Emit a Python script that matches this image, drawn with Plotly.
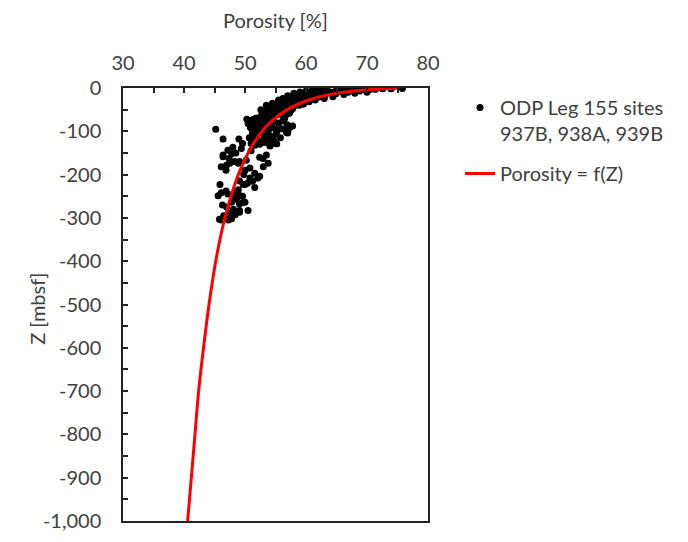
import plotly.graph_objects as go

# ---- fitted curve Porosity = f(Z) ----
curve_z = [0, -1, -2, -5, -10, -20, -30, -50, -75, -100, -150, -200, -300, -400, -500, -600, -700, -800, -900, -1000]
curve_p = [75.0, 73.4, 72.2, 69.3, 66.1, 62.3, 60.0, 56.9, 54.5, 52.8, 50.5, 48.9, 46.7, 45.2, 44.1, 43.2, 42.4, 41.8, 41.2, 40.6]

# ---- ODP Leg 155 observations (porosity %, depth mbsf) ----
p_top = [75.8, 73.9, 72.6, 71.4, 70.6, 69.8, 69.0, 68.3, 67.6, 67.0, 66.4, 65.8, 65.1, 64.6, 64.0, 63.5, 62.9, 66.9, 68.8, 70.1, 63.2, 64.9, 62.3, 61.7,
         60.0, 61.0, 62.0, 63.0, 65.0, 66.0, 67.0, 71.0, 72.5, 74.0, 68.0, 70.0, 66.2, 64.4]
z_top = [-1, -2, -2, -3, -3, -4, -4, -5, -6, -5, -7, -8, -8, -10, -9, -11, -12, -10, -7, -6, -15, -13, -15, -13,
         -7, -6, -5, -4, -5, -4, -3, -2, -1, -1, -12, -10, -15, -20]

p_band = [61.2, 60.6, 60.1, 59.5, 59.0, 58.4, 57.9, 57.4, 56.9, 56.3, 55.8, 61.8, 60.9, 59.8, 58.8, 57.8, 56.7, 55.5, 62.4, 61.4, 60.3, 59.2, 58.1, 57.0, 56.0,
          53.5, 54.5, 55.5, 56.2, 57.0, 58.0, 59.0, 54.0, 55.0, 56.5, 57.5, 58.5, 59.5, 60.5, 61.5, 62.5, 63.5, 59.5, 60.5, 61.5, 63.0]
z_band = [-16, -18, -20, -22, -24, -26, -29, -31, -33, -36, -38, -22, -26, -29, -33, -37, -41, -44, -20, -23, -25, -30, -35, -28, -31,
          -40, -35, -28, -24, -18, -12, -9, -45, -38, -30, -25, -20, -15, -12, -10, -9, -7, -37, -32, -28, -24]

p_mid = [54.9, 54.3, 53.7, 53.2, 52.8, 55.6, 56.4, 57.2, 58.0, 58.9, 59.6, 54.0, 55.1, 56.0, 56.9, 57.8, 53.0, 52.4, 51.8, 54.6, 55.8, 57.3,
         57.0, 57.5, 56.5, 53.5, 52.6]
z_mid = [-46, -49, -52, -55, -58, -50, -47, -45, -42, -40, -37, -60, -56, -54, -52, -48, -65, -68, -70, -64, -62, -58,
         -60, -52, -70, -62, -50]

p_dense = [50.3, 50.8, 51.3, 51.9, 52.4, 53.0, 53.6, 54.2, 50.5, 51.1, 51.7, 52.3, 52.9, 53.5, 54.1, 54.8, 55.5, 56.2, 56.9, 57.4,
           50.9, 51.5, 52.1, 52.7, 53.3, 53.9, 54.5, 55.3, 56.0, 56.8, 51.2, 51.8, 52.5, 53.1, 53.8, 54.4, 55.1, 55.8,
           50.7, 51.4, 52.0, 52.8, 53.4, 54.0, 54.7, 51.0, 51.6, 52.4, 53.2, 54.1, 55.0, 57.8, 57.0, 56.6]
z_dense = [-72, -75, -73, -70, -76, -74, -72, -71, -82, -85, -80, -84, -79, -86, -83, -78, -81, -76, -85, -90,
           -92, -95, -90, -97, -93, -96, -92, -98, -94, -99, -104, -108, -102, -110, -105, -112, -106, -115,
           -115, -120, -118, -124, -116, -122, -120, -128, -132, -130, -126, -134, -128, -88, -104, -95]

p_scatter = [45.2, 46.4, 49.0, 48.0, 47.2, 47.8, 46.4, 49.4, 47.4, 46.1, 47.0, 48.9, 50.2, 50.8, 51.6, 53.0, 53.5, 54.1, 55.2, 56.8,
             57.1, 55.1, 48.5, 49.6, 50.0, 52.4, 51.0, 49.8, 48.3, 46.9, 47.5, 49.1, 52.4, 53.8, 52.95, 46.4]
z_scatter = [-95, -118, -118, -137, -144, -152, -159, -140, -163, -182, -178, -174, -167, -185, -197, -182, -155, -133, -129, -103,
             -95, -95, -150, -128, -190, -160, -145, -200, -170, -190, -174, -170, -204, -174, -163, -155]

p_deep = [50.8, 52.1, 50.0, 51.1, 51.6, 45.9, 46.1, 45.6, 47.2, 48.3, 48.6, 47.8, 49.1, 50.0, 50.5, 49.1, 47.5, 46.7, 46.1, 47.8,
          48.9, 47.0, 46.5, 48.1, 49.6, 50.4, 47.3, 46.3, 45.8, 48.4, 51.3, 49.7, 49.1, 46.9, 48.0, 48.9, 49.7, 49.1, 46.4, 47.8]
z_deep = [-208, -208, -223, -215, -230, -223, -242, -249, -245, -242, -257, -264, -268, -264, -283, -287, -290, -302, -305, -298,
          -235, -275, -295, -280, -250, -220, -305, -270, -303, -293, -215, -223, -215, -238, -253, -245, -264, -283, -302, -302]

obs_p = p_top + p_band + p_mid + p_dense + p_scatter + p_deep
obs_z = z_top + z_band + z_mid + z_dense + z_scatter + z_deep

x_ticks = [30, 40, 50, 60, 70, 80]
y_ticks = [0, -100, -200, -300, -400, -500, -600, -700, -800, -900, -1000]
y_labels = ["0", "-100", "-200", "-300", "-400", "-500", "-600", "-700", "-800", "-900", "-1,000"]

FONT = "Lato"
TXT = "#404040"
FS = 20

fig = go.Figure()
fig.add_trace(go.Scatter(
    x=obs_p, y=obs_z, mode="markers", legendgroup="obs",
    name="ODP Leg 155 sites<br>937B, 938A, 939B",
    marker=dict(color="black", size=7),
))
fig.add_trace(go.Scatter(
    x=curve_p, y=curve_z, mode="lines", legendgroup="fit",
    name="Porosity = f(Z)",
    line=dict(color="#ff0000", width=3, shape="spline"),
))

fig.update_layout(
    width=688, height=542,
    margin=dict(l=123, r=260, t=88, b=10),
    paper_bgcolor="white", plot_bgcolor="white",
    font=dict(family=FONT, size=FS, color=TXT),
    legend=dict(x=1.105, y=1.0, xanchor="left", yanchor="top",
                valign="top", font=dict(size=FS, color=TXT),
                tracegroupgap=11, bgcolor="rgba(0,0,0,0)"),
    showlegend=True,
    annotations=[
        dict(text="Porosity [%]", xref="paper", yref="paper", x=0.5, y=(542 - 88 + 70) / 444 - (542 - 88 - 444) / 444,
             xanchor="center", yanchor="middle", showarrow=False, font=dict(size=FS, color=TXT)),
        dict(text="Z [mbsf]", xref="paper", yref="paper", x=(37 - 123) / 305, y=0.49,
             xanchor="center", yanchor="middle", textangle=-90, showarrow=False, font=dict(size=FS, color=TXT)),
    ],
)
fig.update_xaxes(
    side="top", range=[30, 80], tickvals=x_ticks,
    ticks="inside", ticklen=5, tickwidth=1.5, tickcolor="#222",
    minor=dict(ticks="inside", dtick=5, ticklen=5, tickwidth=1.5, tickcolor="#222"),
    showline=True, linecolor="#222", linewidth=1.5, mirror=True,
    showgrid=False, zeroline=False,
    ticklabelstandoff=8,
)
fig.update_yaxes(
    range=[-1000, 0], tickvals=y_ticks, ticktext=y_labels,
    ticks="inside", ticklen=5, tickwidth=1.5, tickcolor="#222",
    minor=dict(ticks="inside", dtick=50, ticklen=5, tickwidth=1.5, tickcolor="#222"),
    showline=True, linecolor="#222", linewidth=1.5, mirror=True,
    showgrid=False, zeroline=False,
    ticklabelstandoff=16,
)

fig.write_html("out.html")
